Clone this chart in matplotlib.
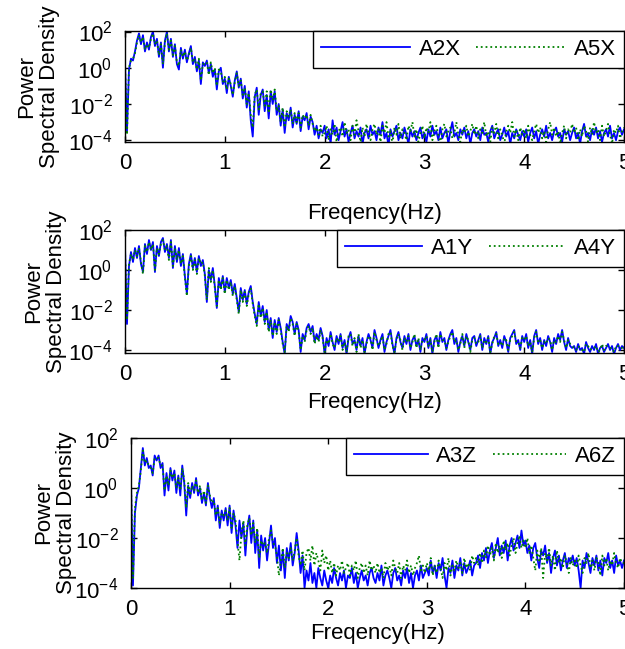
import numpy as np
import matplotlib
matplotlib.use("Agg")
import matplotlib.pyplot as plt
from matplotlib.ticker import NullLocator

plt.rcParams['font.family'] = ['Liberation Sans', 'DejaVu Sans']
plt.rcParams['mathtext.fontset'] = 'custom'
plt.rcParams['mathtext.rm'] = 'Liberation Sans'
plt.rcParams['mathtext.it'] = 'Liberation Sans:italic'
plt.rcParams['axes.unicode_minus'] = False
plt.rcParams['font.size'] = 16

# frequency bins, 0.02 Hz apart
freq = np.arange(251) * 0.02

# PSD of each channel, stored as log10 values (one row = 0.5 Hz)
a2x = [0.3, -3.5, -0.1, 0.5, 0.4, 0.9, 1.5, 1.9, 1.3, 1.8, 0.9, 1.4, 1.0, 1.7, 2.0, 1.2, 1.6, 0.6, 1.4, 0.0, 1.5, 2.0, 0.9, 1.6, 0.6,
       1.3, 0.2, -0.1, 1.1, 0.5, 1.0, 0.3, 0.8, 1.2, 0.2, 0.6, -0.2, 0.4, -0.9, 0.3, 0.1, 0.4, -0.3, 0.2, -0.5, -0.1, -1.2, -0.2, 0.0, -0.9,
       -0.6, -1.4, -0.5, -1.0, -1.6, -0.7, -0.2, -1.1, -0.6, -1.7, -1.0, -2.2, -1.3, -2.9, -3.8, -1.6, -1.1, -2.6, -1.5, -1.2, -2.4, -1.5, -2.8, -1.3, -2.0,
       -1.3, -2.6, -2.0, -3.2, -2.3, -3.6, -2.5, -2.9, -2.2, -3.3, -2.6, -3.1, -2.4, -3.5, -2.7, -2.9, -2.5, -3.4, -2.7, -3.0, -3.7, -3.2, -3.9, -3.4, -3.6,
       -3.2, -3.9, -3.4, -4.2, -2.9, -3.7, -3.3, -4.0, -3.5, -3.0, -3.8, -3.4, -4.1, -3.6, -3.2, -3.9, -3.5, -3.8, -3.3, -4.2, -3.6, -3.4, -3.9, -3.2, -3.7,
       -3.5, -4.0, -3.3, -3.7, -3.0, -3.9, -3.6, -4.3, -3.4, -3.8, -3.5, -3.2, -4.0, -3.6, -3.9, -3.3, -3.7, -4.2, -3.4, -3.8, -3.5, -4.0, -3.6, -3.3, -3.9,
       -3.6, -4.1, -3.4, -3.8, -3.2, -3.7, -3.5, -4.0, -3.3, -3.9, -3.6, -3.4, -4.2, -3.5, -3.0, -3.8, -3.6, -4.0, -3.4, -3.7, -3.3, -3.9, -3.5, -4.2, -3.6,
       -3.4, -3.8, -3.5, -4.0, -3.3, -3.7, -3.6, -4.1, -3.5, -3.2, -3.9, -3.6, -3.4, -4.0, -3.7, -3.3, -3.8, -3.5, -4.2, -3.6, -3.9, -3.4, -3.7, -4.0, -3.5,
       -3.8, -3.4, -4.1, -3.6, -3.3, -3.9, -3.5, -4.2, -3.7, -3.4, -3.8, -3.2, -3.9, -3.6, -4.0, -3.5, -3.3, -3.8, -3.6, -4.1, -3.4, -3.7, -3.5, -4.0, -3.6,
       -3.3, -3.9, -3.6, -4.2, -3.5, -3.1, -3.8, -3.6, -4.0, -3.4, -3.7, -3.3, -3.9, -3.5, -4.1, -3.6, -3.4, -3.8, -3.2, -3.9, -3.6, -4.0, -3.5, -3.3, -3.7,
       -3.4]

a5x = [0.2, -3.7, 0.0, 0.4, 0.5, 0.8, 1.4, 1.8, 1.4, 1.7, 1.0, 1.3, 1.1, 1.6, 1.9, 1.3, 1.5, 0.7, 1.3, 0.2, 1.4, 1.9, 1.0, 1.5, 0.7,
       1.2, 0.3, 0.1, 1.0, 0.6, 0.9, 0.4, 0.7, 1.1, 0.3, 0.5, -0.1, 0.5, -0.7, 0.2, 0.2, 0.3, -0.4, 0.3, -0.3, 0.0, -1.0, -0.1, -0.2, -0.8,
       -0.5, -1.2, -0.6, -0.9, -1.5, -0.8, -0.3, -1.0, -0.7, -1.5, -1.1, -2.0, -1.4, -2.6, -3.3, -1.5, -1.2, -2.3, -1.4, -1.3, -2.1, -1.3, -2.5, -1.2, -1.8,
       -1.2, -2.4, -2.1, -3.0, -2.2, -3.3, -2.4, -2.7, -2.3, -3.1, -2.5, -3.0, -2.5, -3.3, -2.6, -2.8, -2.6, -3.2, -2.6, -3.1, -3.5, -3.3, -3.7, -3.2, -3.8,
       -3.6, -3.2, -4.0, -3.4, -3.7, -3.1, -4.1, -3.5, -3.3, -3.8, -3.0, -3.6, -3.4, -4.0, -3.2, -3.7, -2.9, -3.5, -4.1, -3.3, -3.8, -3.1, -3.6, -4.0, -3.4,
       -3.1, -3.7, -3.4, -4.1, -3.2, -3.6, -3.0, -3.8, -3.5, -4.2, -3.3, -3.7, -3.1, -3.9, -3.4, -3.6, -4.0, -3.2, -3.5, -3.0, -3.8, -3.4, -4.1, -3.6, -3.2,
       -3.9, -3.3, -3.6, -3.0, -4.0, -3.5, -3.2, -3.7, -4.2, -3.4, -3.1, -3.8, -3.5, -3.3, -3.9, -3.6, -3.0, -3.7, -4.1, -3.4, -3.6, -3.2, -3.8, -3.5, -3.1,
       -3.7, -3.2, -3.9, -3.4, -3.6, -3.0, -3.8, -3.5, -4.1, -3.3, -3.6, -3.1, -3.9, -3.4, -3.7, -4.2, -3.5, -3.2, -3.6, -3.0, -3.8, -3.4, -4.0, -3.3, -3.7,
       -3.4, -3.9, -3.2, -3.7, -4.0, -3.5, -3.1, -3.6, -3.3, -3.9, -3.5, -4.1, -3.4, -3.0, -3.7, -3.3, -3.8, -3.5, -4.2, -3.6, -3.2, -3.9, -3.4, -3.6, -3.1,
       -3.6, -3.3, -4.0, -3.4, -3.8, -3.2, -3.5, -4.1, -3.3, -3.7, -3.0, -3.6, -3.4, -4.0, -3.2, -3.8, -3.5, -3.1, -3.7, -4.2, -3.4, -3.6, -3.2, -3.9, -3.5,
       -3.3]

a1y = [1.2, -2.7, 0.2, 0.9, 0.4, 1.1, 0.6, 1.2, 0.3, -0.1, 1.3, 0.8, 1.5, 1.0, 1.4, -0.1, 1.2, 0.7, 1.4, 1.6, 0.9, 1.3, 0.6, 1.5, 0.1,
       1.2, 0.4, 1.1, 0.2, 0.8, -0.3, -1.2, 0.3, 0.8, 0.1, 0.6, -0.1, 0.7, 0.2, 0.5, -0.2, -1.6, 0.0, -0.5, 0.1, -0.8, -1.9, -0.4, -0.9, -0.3,
       -1.1, -0.4, -0.9, -0.5, -1.2, -0.7, -1.4, -2.1, -0.9, -1.5, -1.0, -1.7, -1.1, -0.8, -1.6, -2.2, -2.7, -1.6, -2.3, -1.8, -2.6, -2.0, -3.0, -2.4, -3.4,
       -2.5, -3.1, -2.4, -2.9, -3.6, -4.2, -2.7, -3.0, -2.3, -2.6, -3.2, -2.6, -3.0, -4.1, -3.2, -3.5, -2.9, -2.7, -3.1, -2.8, -3.6, -3.2, -3.5, -2.9, -3.3,
       -4.2, -3.4, -3.8, -3.1, -3.6, -4.0, -3.3, -3.7, -3.2, -3.9, -3.5, -4.2, -3.4, -3.1, -3.7, -3.5, -4.0, -3.3, -3.8, -3.4, -4.2, -3.6, -3.2, -3.5, -3.9,
       -3.0, -3.4, -3.9, -3.5, -3.2, -4.1, -3.6, -3.3, -3.0, -3.7, -4.2, -3.4, -3.1, -3.6, -3.9, -3.3, -3.7, -3.2, -4.0, -3.5, -3.3, -3.8, -3.5, -4.1, -3.4,
       -3.6, -3.2, -3.9, -3.4, -4.2, -3.5, -3.3, -3.8, -3.1, -3.6, -3.4, -4.0, -3.5, -3.2, -3.0, -3.7, -3.4, -4.1, -3.6, -3.3, -3.8, -3.2, -3.6, -4.0, -3.4,
       -3.3, -3.8, -3.5, -3.2, -4.0, -3.4, -3.7, -3.3, -4.2, -3.6, -3.4, -3.1, -3.8, -3.5, -3.9, -3.3, -3.6, -4.1, -3.4, -3.2, -3.0, -3.7, -3.5, -4.0, -3.3,
       -3.6, -3.2, -3.9, -3.5, -4.2, -3.3, -3.0, -3.7, -3.4, -4.0, -3.5, -3.8, -3.3, -3.6, -4.1, -3.4, -3.7, -3.2, -3.5, -3.0, -3.6, -4.0, -3.4, -3.8, -3.9,
       -3.8, -4.1, -3.7, -4.0, -3.9, -4.2, -3.6, -3.9, -4.1, -3.8, -4.0, -3.7, -4.2, -3.9, -3.8, -4.1, -3.9, -3.7, -4.0, -3.8, -4.2, -3.9, -3.7, -4.0, -3.8,
       -3.9]

a4y = [1.0, -2.5, 0.3, 0.8, 0.5, 1.0, 0.7, 1.1, 0.4, -0.2, 1.2, 0.9, 1.4, 1.0, 1.3, 0.0, 1.1, 0.8, 1.3, 1.5, 1.0, 1.2, 0.5, 1.4, 0.2,
       1.1, 0.5, 1.0, 0.3, 0.7, -0.4, -1.3, 0.2, 0.7, 0.0, 0.5, -0.2, 0.6, 0.3, 0.4, -0.3, -1.5, 0.1, -0.6, 0.0, -0.9, -1.8, -0.5, -1.0, -0.4,
       -1.2, -0.5, -1.0, -0.6, -1.3, -0.8, -1.5, -2.2, -1.0, -1.6, -1.1, -1.8, -1.2, -0.9, -1.7, -2.3, -2.8, -1.7, -2.4, -1.9, -2.7, -2.1, -3.1, -2.5, -3.3,
       -2.6, -3.2, -2.5, -3.0, -3.7, -4.1, -2.8, -3.1, -2.4, -2.7, -3.3, -2.7, -3.1, -4.0, -3.3, -3.6, -3.0, -2.8, -3.2, -2.9, -3.7, -3.3, -3.6, -3.0, -3.4,
       -4.1, -3.5, -3.7, -3.2, -3.7, -3.9, -3.4, -3.6, -3.3, -4.0, -3.6, -4.1, -3.3, -3.2, -3.8, -3.4, -4.1, -3.2, -3.9, -3.5, -4.1, -3.7, -3.3, -3.4, -4.0,
       -3.1, -3.5, -3.8, -3.6, -3.3, -4.0, -3.7, -3.2, -3.1, -3.8, -4.1, -3.5, -3.2, -3.5, -4.0, -3.4, -3.6, -3.3, -3.9, -3.6, -3.2, -3.9, -3.4, -4.0, -3.5,
       -3.5, -3.3, -3.8, -3.5, -4.1, -3.6, -3.2, -3.9, -3.2, -3.5, -3.5, -3.9, -3.6, -3.3, -3.1, -3.6, -3.5, -4.0, -3.7, -3.2, -3.9, -3.3, -3.5, -4.1, -3.5,
       -3.4, -3.7, -3.6, -3.3, -3.9, -3.5, -3.6, -3.4, -4.1, -3.7, -3.3, -3.2, -3.7, -3.6, -3.8, -3.4, -3.5, -4.0, -3.5, -3.3, -3.1, -3.6, -3.6, -3.9, -3.4,
       -3.5, -3.3, -3.8, -3.6, -4.1, -3.4, -3.1, -3.6, -3.5, -3.9, -3.6, -3.7, -3.4, -3.5, -4.0, -3.5, -3.6, -3.3, -3.6, -3.1, -3.5, -3.9, -3.5, -3.7, -3.8,
       -3.9, -4.0, -3.8, -3.9, -4.0, -4.1, -3.7, -3.8, -4.0, -3.9, -3.9, -3.8, -4.1, -4.0, -3.7, -4.0, -3.8, -3.8, -3.9, -3.9, -4.1, -3.8, -3.8, -3.9, -3.9,
       -3.8]

a3z = [0.3, -3.9, -1.0, -0.3, 0.0, 0.8, 1.6, 0.9, 1.2, 0.8, 0.9, 0.5, 1.3, 1.1, 1.3, 0.8, 1.0, -0.3, 0.6, -0.1, 0.8, 0.3, 0.7, -0.2, 0.5,
       -0.3, 0.9, 0.2, -1.1, 0.1, -0.4, 0.2, -0.2, 0.4, -0.3, 0.0, -0.6, -0.2, -0.7, 0.2, -0.4, -0.8, -0.4, -1.3, -0.7, -1.6, -0.9, -1.3, -0.8, -1.5,
       -0.7, -1.8, -0.9, -1.5, -2.4, -1.3, -2.0, -1.4, -2.7, -1.6, -1.1, -2.2, -1.3, -2.6, -1.7, -3.2, -1.9, -2.5, -2.0, -2.9, -2.2, -1.5, -2.4, -2.0, -3.0,
       -2.3, -3.3, -2.5, -3.6, -2.4, -2.9, -2.2, -3.1, -2.6, -1.8, -2.5, -3.4, -2.7, -4.0, -3.3, -3.7, -3.0, -3.8, -3.4, -4.0, -3.2, -3.6, -3.9, -3.3, -3.7,
       -4.0, -3.5, -3.8, -3.2, -3.6, -3.9, -3.4, -3.7, -3.3, -4.0, -3.5, -3.6, -3.2, -3.8, -3.4, -4.0, -3.6, -3.3, -3.7, -3.5, -3.9, -3.4, -3.2, -3.6, -3.8,
       -3.4, -3.7, -3.1, -3.9, -3.5, -3.3, -3.6, -4.0, -3.4, -3.2, -3.7, -3.5, -3.9, -3.3, -3.6, -3.2, -3.8, -3.4, -4.0, -3.5, -3.3, -3.7, -3.1, -3.6, -3.4,
       -3.2, -3.5, -2.9, -3.4, -3.1, -3.6, -3.0, -3.3, -2.8, -3.5, -4.0, -3.2, -3.4, -2.9, -3.6, -3.1, -3.3, -2.8, -3.5, -3.0, -3.4, -3.2, -2.9, -3.5, -3.1,
       -3.0, -2.7, -3.2, -2.6, -2.9, -2.4, -3.0, -2.5, -2.2, -2.8, -2.4, -2.0, -2.7, -2.3, -2.6, -2.1, -2.9, -2.3, -2.0, -2.5, -2.2, -1.9, -2.4, -1.7, -2.3,
       -2.1, -2.6, -2.3, -2.9, -2.4, -2.2, -2.8, -3.2, -2.5, -2.7, -2.3, -3.0, -2.6, -3.4, -2.8, -2.5, -3.1, -2.7, -3.3, -2.9, -2.6, -3.2, -2.8, -3.0, -2.7,
       -3.1, -2.8, -3.3, -4.0, -2.9, -3.2, -2.6, -3.0, -3.4, -2.8, -3.1, -2.7, -3.3, -2.9, -3.5, -2.8, -3.0, -2.6, -3.2, -2.9, -3.4, -2.7, -3.1, -2.9, -3.2,
       -2.9]

a6z = [0.1, -3.6, -0.8, -0.2, 0.1, 0.7, 1.5, 1.0, 1.1, 0.9, 0.8, 0.6, 1.2, 1.2, 1.2, 0.9, 0.9, -0.1, 0.5, 0.1, 0.7, 0.4, 0.6, 0.0, 0.4,
       -0.1, 0.8, 0.3, -0.8, 0.2, -0.3, 0.1, -0.1, 0.3, -0.2, 0.1, -0.5, -0.1, -0.6, 0.1, -0.3, -0.6, -0.5, -1.1, -0.8, -1.4, -1.0, -1.1, -0.9, -1.3,
       -0.8, -1.6, -1.0, -1.3, -2.1, -2.9, -1.8, -1.3, -2.3, -1.5, -1.2, -1.9, -1.4, -2.2, -1.6, -2.8, -2.1, -2.3, -2.2, -2.6, -2.0, -1.7, -2.2, -2.3, -2.7,
       -3.5, -2.9, -2.4, -3.2, -2.6, -2.8, -2.4, -2.9, -2.5, -2.0, -2.7, -3.1, -2.5, -3.3, -2.6, -2.4, -2.9, -2.3, -3.1, -2.6, -2.9, -3.3, -2.5, -3.0, -2.7,
       -3.3, -2.9, -3.4, -3.0, -3.5, -3.1, -3.3, -2.9, -3.4, -3.2, -3.0, -3.5, -3.1, -3.3, -2.9, -3.6, -3.2, -3.0, -3.4, -3.1, -3.5, -2.9, -3.3, -3.1, -3.4,
       -3.0, -3.4, -3.2, -3.6, -3.0, -3.3, -3.1, -3.5, -2.9, -3.2, -3.4, -3.0, -3.6, -3.1, -3.3, -2.9, -3.4, -3.1, -3.5, -3.2, -3.0, -2.7, -3.3, -3.1, -3.4,
       -3.0, -3.3, -2.8, -3.5, -3.1, -3.4, -2.9, -3.2, -3.6, -3.0, -3.3, -2.8, -3.5, -3.1, -3.3, -2.9, -3.2, -3.0, -3.4, -2.8, -3.2, -3.0, -3.3, -2.7, -3.0,
       -2.8, -3.1, -2.6, -3.0, -2.5, -2.8, -2.3, -2.7, -2.4, -2.9, -2.2, -2.6, -2.3, -2.8, -2.1, -2.5, -2.2, -2.7, -2.3, -2.0, -2.6, -2.2, -1.9, -2.4, -2.1,
       -2.4, -2.0, -2.6, -2.3, -2.8, -3.3, -2.5, -2.9, -2.4, -3.6, -2.6, -2.9, -2.4, -3.1, -2.7, -3.3, -2.5, -3.0, -2.8, -3.2, -2.7, -3.0, -3.4, -2.8, -3.1,
       -2.9, -3.2, -2.7, -3.1, -3.4, -2.8, -3.0, -2.6, -3.2, -2.9, -3.3, -2.8, -3.0, -3.5, -2.7, -3.1, -2.8, -3.3, -2.9, -3.1, -2.6, -3.0, -3.2, -2.8, -3.0,
       -3.0]

xticks = [0, 1, 2, 3, 4, 5]
yticks = [1e-4, 1e-2, 1e0, 1e2]

W, H = 625, 649
fig = plt.figure(figsize=(W / 100, H / 100), dpi=100)

# (left, top, right, bottom) in pixels, y-limits as log10, label offsets, legend handle length
panels = [
    ((125, 31, 624, 142), a2x, a5x, ('A2X', 'A5X'), (-4.1, 2.03), -0.64, -0.13, 4.0),
    ((125, 230, 624, 353), a1y, a4y, ('A1Y', 'A4Y'), (-4.15, 2.0), -0.40, -0.116, 3.45),
    ((131, 438, 624, 588), a3z, a6z, ('A3Z', 'A6Z'), (-4.0, 2.0), -0.30, -0.11, 3.3),
]

for (l, t, r, b), blue, green, names, ylog, xlab_y, ylab_x, hlen in panels:
    ax = fig.add_axes([l / W, 1 - b / H, (r - l) / W, (b - t) / H])
    ax.plot(freq, 10 ** np.array(blue), color='b', lw=1.3, label=names[0])
    ax.plot(freq, 10 ** np.array(green), color=(0, 0.5, 0), ls=':', lw=1.3, label=names[1])
    ax.set_yscale('log')
    ax.set_xlim(0, 5)
    ax.set_ylim(10 ** ylog[0], 10 ** ylog[1])
    ax.set_xticks(xticks)
    ax.set_xticklabels([str(v) for v in xticks])
    ax.set_yticks(yticks)
    ax.yaxis.set_minor_locator(NullLocator())
    ax.tick_params(direction='in', top=True, right=True, length=4, width=1, labelsize=16)
    ax.tick_params(axis='x', pad=8)
    ax.tick_params(axis='y', pad=9)
    for s in ax.spines.values():
        s.set_linewidth(1.0)

    ax.set_xlabel('Freqency(Hz)', fontsize=16, va='center')
    ax.xaxis.set_label_coords(0.5, xlab_y)
    ax.set_ylabel('Power\nSpectral Density', fontsize=16, linespacing=1.1)
    ax.yaxis.set_label_coords(ylab_x, 0.5)

    leg = ax.legend(loc='upper right', bbox_to_anchor=(1, 1), ncol=2, borderaxespad=0,
                    fancybox=False, edgecolor='k', framealpha=1, fontsize=16,
                    handlelength=hlen, handletextpad=0.4, columnspacing=0.7, borderpad=0.35)
    leg.get_frame().set_linewidth(1.0)

fig.savefig('out.png', dpi=100)
